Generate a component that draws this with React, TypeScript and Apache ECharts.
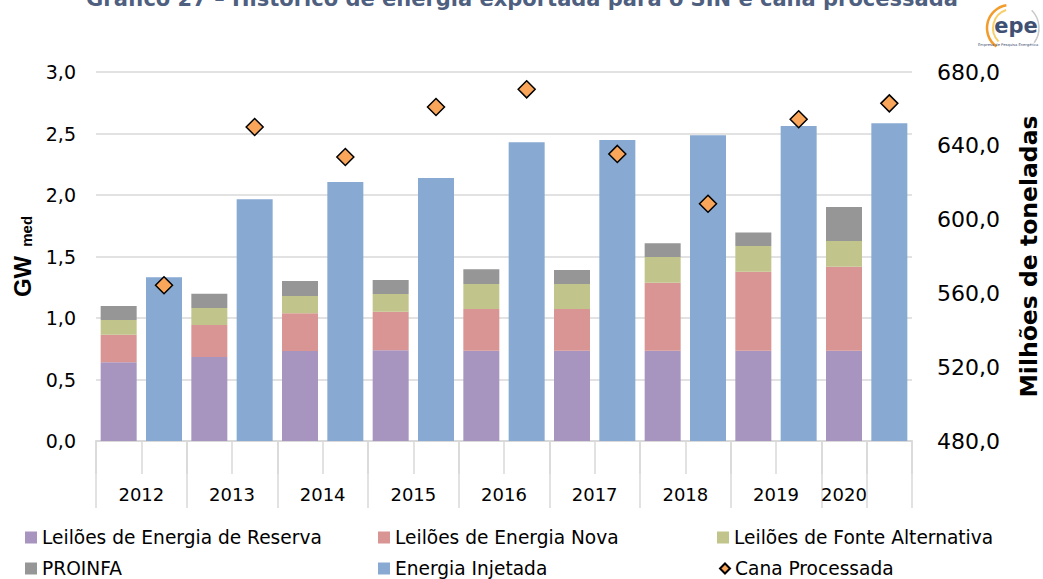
import React, { useEffect, useRef } from 'react';
import * as echarts from 'echarts';

const years = ['2012', '2013', '2014', '2015', '2016', '2017', '2018', '2019', '2020'];
const reserva = [0.64, 0.683, 0.732, 0.737, 0.734, 0.734, 0.734, 0.734, 0.734];
const nova = [0.224, 0.26, 0.306, 0.314, 0.339, 0.339, 0.553, 0.643, 0.683];
const alternativa = [0.12, 0.138, 0.141, 0.144, 0.203, 0.203, 0.209, 0.208, 0.209];
const proinfa = [0.114, 0.117, 0.122, 0.114, 0.12, 0.114, 0.111, 0.111, 0.276];
const injetada = [1.331, 1.965, 2.106, 2.138, 2.428, 2.447, 2.485, 2.561, 2.583];
const cana = [564.4, 650.2, 633.9, 661.0, 670.6, 635.6, 608.6, 654.4, 663.0];

const leftMin = 0, leftMax = 3, leftStep = 0.5;
const rightMin = 480, rightMax = 680, rightStep = 40;

const title = 'Gráfico 27 – Histórico de energia exportada para o SIN e cana processada';

// legend layout: [name, icon] in reading order (3 columns x 2 rows)
const legendRows = [
  [['Leilões de Energia de Reserva', 'rect'], ['Leilões de Energia Nova', 'rect'], ['Leilões de Fonte Alternativa', 'rect']],
  [['PROINFA', 'rect'], ['Energia Injetada', 'rect'], ['Cana Processada', 'diamond']],
];

// two slots per year: contracted (stacked) and injected
const slots: string[] = [];
years.forEach((y) => { slots.push(y + ' contratada'); slots.push(y + ' injetada'); });

// half-slot grid for the year labels and group separators
const yearAxis: string[] = [];
for (let i = 0; i <= slots.length * 2; i++) yearAxis.push('');
years.forEach((y, k) => {
  if (k < years.length - 1) yearAxis[4 * k + 2] = y;
  else yearAxis[4 * k + 1] = y; // the 2020 group only spans its contracted bar
});
const groupEdges = new Set<number>();
for (let k = 0; k < years.length; k++) groupEdges.add(4 * k);
groupEdges.add(4 * (years.length - 1) + 2);
groupEdges.add(slots.length * 2);

const onContracted = (arr: number[]) => slots.map((_, s) => (s % 2 === 0 ? arr[s >> 1] : '-'));
const onInjected = (arr: number[]) => slots.map((_, s) => (s % 2 === 1 ? arr[s >> 1] : '-'));

const fmt = (v: number) => v.toFixed(1).replace('.', ',');
const FONT = '"DejaVu Sans", Verdana, sans-serif';
const ARIAL = '"Liberation Sans", Arial, sans-serif';
const GRID = '#d9d9d9';

export default function App() {
  const ref = useRef<HTMLDivElement>(null);
  useEffect(() => {
    document.body.style.margin = '0';
    const chart = echarts.init(ref.current!, null, { renderer: 'svg' });
    const colLeft = [25, 378, 717];
    const rowTop = [528, 559];
    const legends: any[] = [];
    legendRows.forEach((row, r) =>
      row.forEach(([name, icon], c) => {
        const small = icon === 'diamond';
        legends.push({
          left: colLeft[c] + (small ? 2 : 0),
          top: rowTop[r],
          padding: 0,
          itemWidth: small ? 10 : 12,
          itemHeight: small ? 10 : 12,
          textStyle: { fontFamily: FONT, fontSize: 18.6, color: '#000' },
          data: [{ name, icon }],
        });
      })
    );
    const bar = (name: string, data: any[], color: string) => ({
      name,
      type: 'bar',
      stack: 'total',
      barWidth: 36,
      data,
      itemStyle: { color },
    });
    chart.setOption({
      animation: false,
      backgroundColor: '#fff',
      grid: { left: 96, right: 131, top: 72, bottom: 138, containLabel: false, outerBoundsMode: 'none' },
      legend: legends,
      xAxis: [
        {
          type: 'category',
          data: slots,
          position: 'bottom',
          axisLine: { show: true, lineStyle: { color: GRID, width: 2 } },
          axisTick: { show: true, interval: 0, length: 33, lineStyle: { color: GRID, width: 1.5 } },
          axisLabel: { show: false },
          splitLine: { show: false },
        },
        {
          type: 'category',
          data: yearAxis,
          boundaryGap: false,
          position: 'bottom',
          axisLine: { show: false },
          axisTick: {
            show: true,
            interval: (i: number) => groupEdges.has(i),
            length: 67,
            lineStyle: { color: GRID, width: 1.5 },
          },
          axisLabel: { interval: 0, margin: 44, fontFamily: FONT, fontSize: 18, color: '#000' },
          splitLine: { show: false },
        },
      ],
      yAxis: [
        {
          type: 'value',
          min: leftMin,
          max: leftMax,
          interval: leftStep,
          axisLine: { show: false },
          axisTick: { show: false },
          axisLabel: { formatter: fmt, fontFamily: FONT, fontSize: 19, color: '#000', margin: 20 },
          splitLine: { lineStyle: { color: GRID, width: 1.5 } },
          name: '{a|GW}{b|med}',
          nameLocation: 'middle',
          nameRotate: 90,
          nameGap: 62,
          nameTextStyle: {
            rich: {
              a: { fontFamily: ARIAL, fontWeight: 'bold', fontSize: 24, color: '#000', verticalAlign: 'bottom' },
              b: { fontFamily: ARIAL, fontWeight: 'bold', fontSize: 15, color: '#000', verticalAlign: 'bottom', padding: [0, 0, 0, 9] },
            },
          },
        },
        {
          type: 'value',
          min: rightMin,
          max: rightMax,
          interval: rightStep,
          axisLine: { show: false },
          axisTick: { show: false },
          axisLabel: { formatter: fmt, fontFamily: FONT, fontSize: 22, color: '#000', margin: 25 },
          splitLine: { show: false },
          name: 'Milhões de toneladas',
          nameLocation: 'middle',
          nameRotate: 90,
          nameGap: 105,
          nameTextStyle: { fontFamily: FONT, fontWeight: 'bold', fontSize: 23.5, color: '#000' },
        },
      ],
      series: [
        bar('Leilões de Energia de Reserva', onContracted(reserva), '#A795C0'),
        bar('Leilões de Energia Nova', onContracted(nova), '#D99593'),
        bar('Leilões de Fonte Alternativa', onContracted(alternativa), '#C1C58B'),
        bar('PROINFA', onContracted(proinfa), '#969696'),
        bar('Energia Injetada', onInjected(injetada), '#88A9D2'),
        {
          name: 'Cana Processada',
          type: 'scatter',
          yAxisIndex: 1,
          symbol: 'diamond',
          symbolSize: 17,
          data: onInjected(cana),
          itemStyle: { color: '#F9A65A', borderColor: '#000', borderWidth: 1.5, opacity: 1 },
          z: 5,
        },
      ],
      graphic: [
        {
          type: 'text',
          x: 522,
          y: -1,
          style: { text: title, fontFamily: FONT, fontWeight: 'bold', fontSize: 21, fill: '#4F5F80', align: 'center', verticalAlign: 'middle' },
        },
        { type: 'arc', shape: { cx: 1010, cy: 28, r: 23, startAngle: Math.PI * 0.7, endAngle: Math.PI * 1.45 }, style: { stroke: '#F39C2C', lineWidth: 2.5, fill: 'none' } },
        { type: 'arc', shape: { cx: 1012, cy: 28, r: 19, startAngle: Math.PI * 0.75, endAngle: Math.PI * 1.4 }, style: { stroke: '#F7CF6A', lineWidth: 2, fill: 'none' } },
        { type: 'arc', shape: { cx: 1014, cy: 28, r: 25, startAngle: -Math.PI * 0.25, endAngle: Math.PI * 0.2 }, style: { stroke: '#c8c8c8', lineWidth: 1.5, fill: 'none' } },
        {
          type: 'text',
          x: 1016,
          y: 26,
          style: { text: 'epe', fontFamily: FONT, fontWeight: 'bold', fontSize: 21, fill: '#3F5073', align: 'center', verticalAlign: 'middle' },
        },
        {
          type: 'text',
          x: 978,
          y: 45,
          style: { text: 'Empresa de Pesquisa Energética', fontFamily: FONT, fontSize: 3.7, fill: '#3F5073', align: 'left', verticalAlign: 'middle' },
        },
      ],
    });
    return () => chart.dispose();
  }, []);
  return <div ref={ref} style={{ position: 'fixed', left: 0, top: 0, width: 1043, height: 579 }} />;
}
